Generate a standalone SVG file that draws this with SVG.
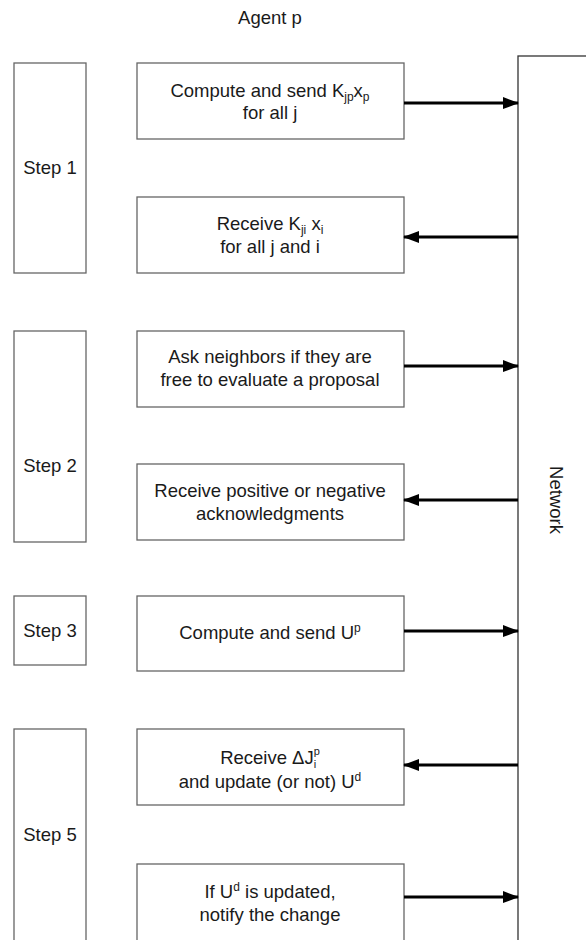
<svg xmlns="http://www.w3.org/2000/svg" width="586" height="940" viewBox="0 0 586 940">
<style>
  .box{fill:#fff;stroke:#666;stroke-width:1.3}
  .t{font-family:"Liberation Sans",Arial,sans-serif;font-size:18.5px;fill:#1a1a1a;text-anchor:middle}
  .s{font-size:12px}
  .ss{font-size:11px}
  .ar{stroke:#000;stroke-width:3;fill:none}
</style>
<defs>
  <marker id="ah" markerWidth="16" markerHeight="12" refX="15" refY="6" orient="auto" markerUnits="userSpaceOnUse">
    <path d="M0,0 L16,6 L0,12 Z" fill="#000"/>
  </marker>
</defs>
<rect width="586" height="940" fill="#fff"/>
<text class="t" x="270" y="24">Agent p</text>

<g id="network">
  <rect class="box" x="518" y="56" width="120" height="920" style="stroke:#333"/>
  <text class="t" transform="translate(550,500) rotate(90)">Network</text>
</g>

<g id="step1"><rect class="box" x="14" y="63" width="72" height="210"/><text class="t" x="50" y="174">Step 1</text></g>
<g id="step2"><rect class="box" x="14" y="331" width="72" height="211"/><text class="t" x="50" y="472">Step 2</text></g>
<g id="step3"><rect class="box" x="14" y="596" width="72" height="69"/><text class="t" x="50" y="637">Step 3</text></g>
<g id="step5"><rect class="box" x="14" y="729" width="72" height="240"/><text class="t" x="50" y="841">Step 5</text></g>

<g id="b1"><rect class="box" x="137" y="63" width="267" height="76"/>
  <text class="t" x="270" y="97">Compute and send K<tspan class="s" dy="4">jp</tspan><tspan dy="-4">x</tspan><tspan class="s" dy="4">p</tspan></text>
  <text class="t" x="270" y="119">for all j</text></g>
<g id="b2"><rect class="box" x="137" y="197" width="267" height="76"/>
  <text class="t" x="270" y="230">Receive K<tspan class="s" dy="4">ji</tspan><tspan dy="-4"> x</tspan><tspan class="s" dy="4">i</tspan></text>
  <text class="t" x="270" y="253">for all j and i</text></g>
<g id="b3"><rect class="box" x="137" y="331" width="267" height="76"/>
  <text class="t" x="270" y="363">Ask neighbors if they are</text>
  <text class="t" x="270" y="386">free to evaluate a proposal</text></g>
<g id="b4"><rect class="box" x="137" y="464" width="267" height="76"/>
  <text class="t" x="270" y="497">Receive positive or negative</text>
  <text class="t" x="270" y="520">acknowledgments</text></g>
<g id="b5"><rect class="box" x="137" y="596" width="267" height="75"/>
  <text class="t" x="270" y="639">Compute and send U<tspan class="s" dy="-7">p</tspan></text></g>
<g id="b6"><rect class="box" x="137" y="729" width="267" height="76"/>
  <text class="t" x="270" y="764">Receive ΔJ<tspan class="ss" dy="-9">p</tspan><tspan class="ss" dx="-6" dy="13">i</tspan></text>
  <text class="t" x="270" y="788">and update (or not) U<tspan class="s" dy="-7">d</tspan></text></g>
<g id="b7"><rect class="box" x="137" y="864" width="267" height="110"/>
  <text class="t" x="270" y="898">If U<tspan class="s" dy="-7">d</tspan><tspan dy="7"> is updated,</tspan></text>
  <text class="t" x="270" y="921">notify the change</text></g>

<g id="connectors">
  <line class="ar" x1="404" y1="103" x2="518" y2="103" marker-end="url(#ah)"/>
  <line class="ar" x1="518" y1="237" x2="404" y2="237" marker-end="url(#ah)"/>
  <line class="ar" x1="404" y1="366" x2="518" y2="366" marker-end="url(#ah)"/>
  <line class="ar" x1="518" y1="500" x2="404" y2="500" marker-end="url(#ah)"/>
  <line class="ar" x1="404" y1="631" x2="518" y2="631" marker-end="url(#ah)"/>
  <line class="ar" x1="518" y1="765" x2="404" y2="765" marker-end="url(#ah)"/>
  <line class="ar" x1="404" y1="897" x2="518" y2="897" marker-end="url(#ah)"/>
</g>
</svg>
